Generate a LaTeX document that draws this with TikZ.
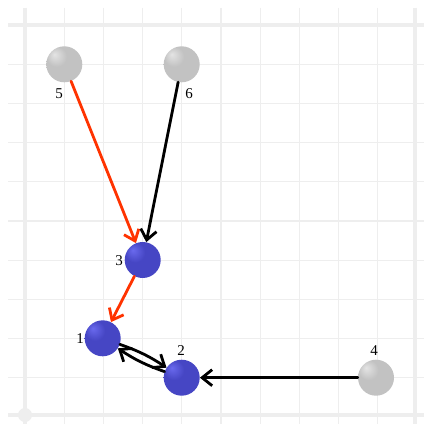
\documentclass[tikz,border=0pt]{standalone}
\usepackage{fontspec}
\setmainfont{Liberation Serif}
\usetikzlibrary{arrows.meta}
\definecolor{gridc}{HTML}{EEEEEE}
\definecolor{edgered}{HTML}{FF3300}
\definecolor{ballblue}{HTML}{4646C4}
\definecolor{ballbluehi}{HTML}{6A6AEE}
\definecolor{ballgray}{HTML}{C2C2C2}
\definecolor{ballgrayhi}{HTML}{E4E4E4}
\pgfdeclareradialshading{grayball}{\pgfpoint{-14bp}{14bp}}{color(0bp)=(ballgrayhi); color(14bp)=(ballgray); color(40bp)=(ballgray); color(60bp)=(ballgray!92!black)}
\pgfdeclareradialshading{blueball}{\pgfpoint{-14bp}{14bp}}{color(0bp)=(ballbluehi); color(14bp)=(ballblue); color(40bp)=(ballblue); color(60bp)=(ballblue!92!black)}
\tikzset{
  minorgrid/.style={draw=gridc, line width=1pt},
  majorgrid/.style={draw=gridc, line width=4pt},
  midgrid/.style={draw=gridc, line width=2pt},
  bluenode/.style={circle, minimum size=36pt, inner sep=0pt, shading=blueball},
  graynode/.style={circle, minimum size=36pt, inner sep=0pt, shading=grayball},
  lbl/.style={font=\fontsize{15}{15}\selectfont, inner sep=0pt},
  edge/.style={line width=2.8pt, line cap=round, -{Straight Barb[length=10pt,width=16pt]}},
}
\begin{document}
\begin{tikzpicture}[x=1pt,y=-1pt]
\useasboundingbox (0,0) rectangle (424,425);
\fill[white] (0,0) rectangle (424,425);
% minor grid
\foreach \v in {64.3,103.3,142.7,181.7,260,299,338,377}{
  \draw[minorgrid] (\v,8) -- (\v,424);
  \draw[minorgrid] (8,\v) -- (424,\v);
}
\draw[midgrid] (220.7,8) -- (220.7,424);
\draw[midgrid] (8,221) -- (424,221);
\draw[majorgrid] (25,8) -- (25,424);
\draw[majorgrid] (415,8) -- (415,424);
\draw[majorgrid] (8,25) -- (424,25);
\draw[majorgrid] (8,415) -- (424,415);
\fill[gridc] (25,415) circle (7);
% nodes
\node[graynode] (n5) at (64.3,64.3) {};
\node[graynode] (n6) at (181.7,64.3) {};
\node[bluenode] (n3) at (142.7,260) {};
\node[bluenode] (n1) at (102.7,338.3) {};
\node[bluenode] (n2) at (181.7,377.7) {};
\node[graynode] (n4) at (376,377.7) {};
% labels
\node[lbl] (l5) at (59,94) {5};
\node[lbl] (l6) at (189,94) {6};
\node[lbl] (l3) at (119,261) {3};
\node[lbl] (l1) at (80,339) {1};
\node[lbl] (l2) at (181,351) {2};
\node[lbl] (l4) at (374,351) {4};
% edges
\draw[edge, edgered] (n5) -- (n3);
\draw[edge, black] (n6) -- (n3);
\draw[edge, edgered] (n3) -- (n1);
\draw[edge, black] (n4) -- (n2);
\draw[edge, black] (n1) to[bend left=7] (n2);
\draw[edge, black] (n2) to[bend left=7] (n1);
\end{tikzpicture}
\end{document}
